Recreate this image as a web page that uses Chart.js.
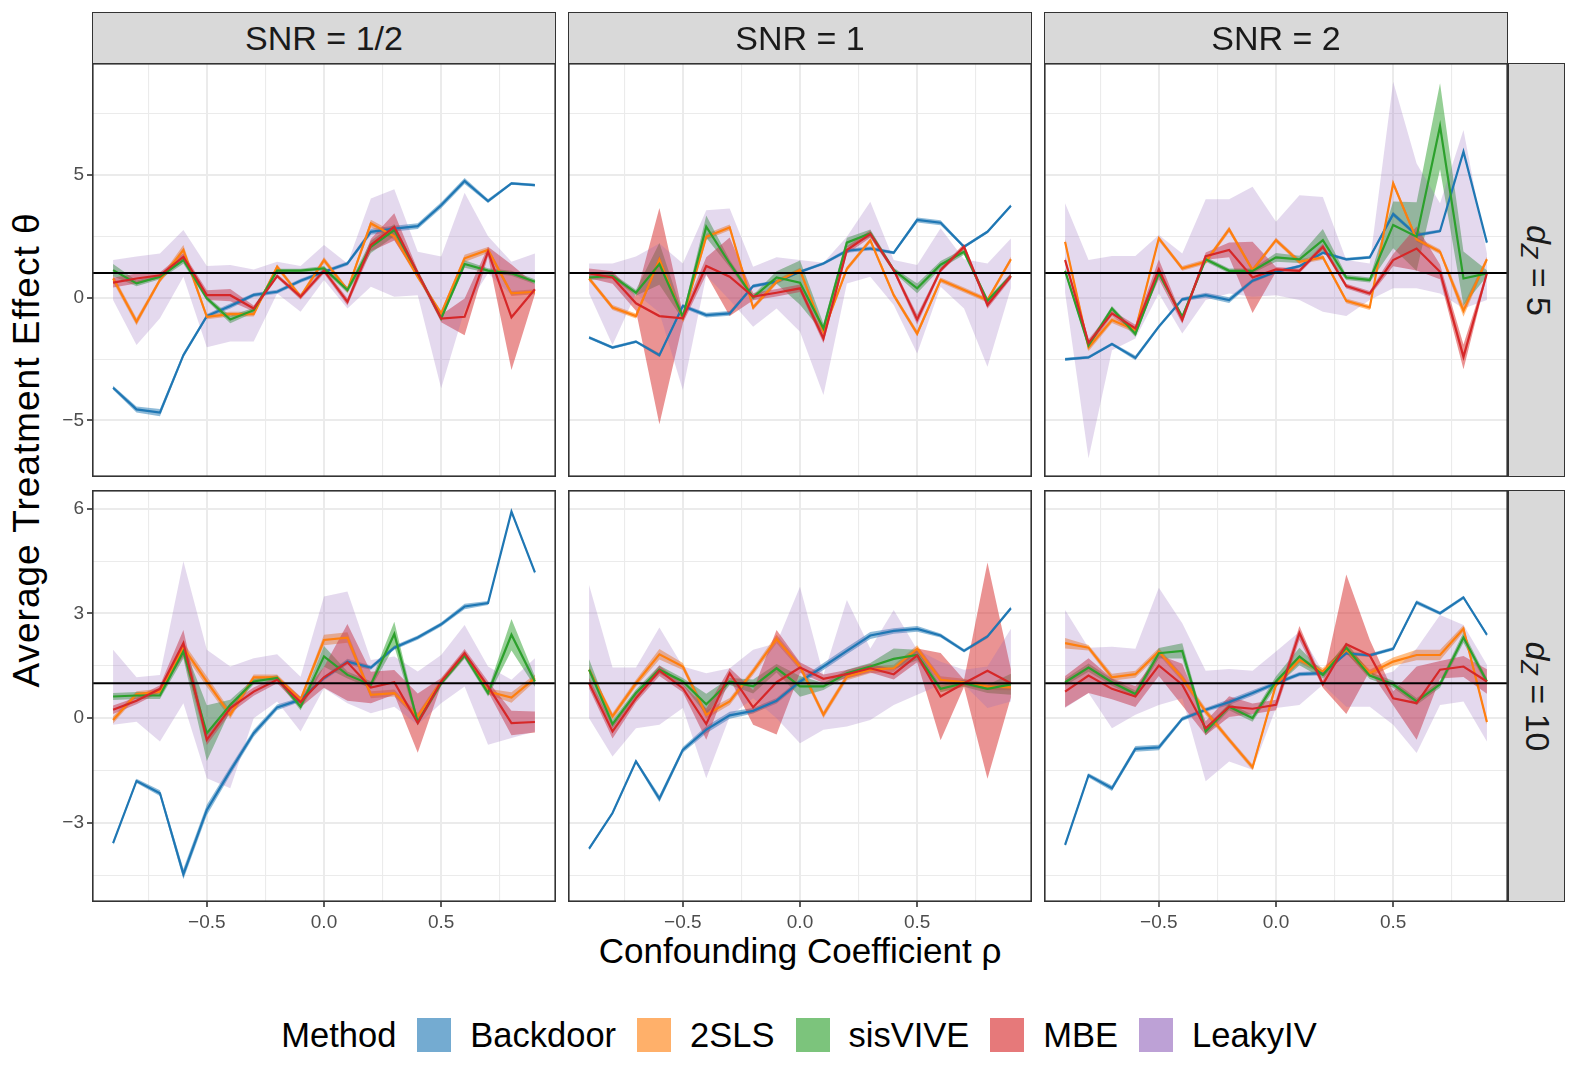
<!DOCTYPE html>
<html>
<head>
<meta charset="utf-8">
<script src="https://cdn.jsdelivr.net/npm/chart.js@4.4.1/dist/chart.umd.min.js"></script>
<style>
  body { margin: 0; background: #fff; width: 1578px; height: 1078px; position: relative; overflow: hidden;
         font-family: "Liberation Sans", Arial, sans-serif; }
  canvas { position: absolute; }
  .strip { position: absolute; background: #d9d9d9; border: 1.5px solid #333; box-sizing: border-box;
           display: flex; align-items: center; justify-content: center; color: #1a1a1a; font-size: 34px; }
  .vtext { transform: rotate(90deg); white-space: nowrap; }
  .vtext sub { font-size: 70%; vertical-align: -0.25em; }
  .title { position: absolute; font-size: 35px; color: #000; white-space: nowrap; }
  #legend { position: absolute; left: 10px; width: 1578px; top: 1017px; height: 36px; display: flex;
            align-items: center; justify-content: center; font-size: 34.5px; color: #000; }
  #legend .key { width: 34px; height: 34px; margin: 0 19px 0 21px; }
</style>
</head>
<body>
<div class="title" id="xtitle" style="left:800px;top:951px;transform:translate(-50%,-50%)">Confounding Coefficient ρ</div>
<div class="title" id="ytitle" style="left:27px;top:450px;font-size:37px;letter-spacing:1px;transform:translate(-50%,-50%) rotate(-90deg)">Average Treatment Effect θ</div>
<div id="legend"></div>
<script>
// x values (confounding coefficient)
const rho = [-0.9, -0.8, -0.7, -0.6, -0.5, -0.4, -0.3, -0.2, -0.1, 0, 0.1, 0.2, 0.3, 0.4, 0.5, 0.6, 0.7, 0.8, 0.9];
const methods = ["Backdoor", "2SLS", "sisVIVE", "MBE", "LeakyIV"];
const snrLabels = ["SNR = 1/2", "SNR = 1", "SNR = 2"];
const dzLabels = ["5", "10"];
const trueEffect = 1;

const xTicks = [-0.5, 0, 0.5];
const xTickLabels = ["−0.5", "0.0", "0.5"];
const xMinor = [-0.75, -0.25, 0.25, 0.75];
const yTicksTop = [-5, 0, 5];
const yTickLabelsTop = ["−5", "0", "5"];
const yMinorTop = [-2.5, 2.5, 7.5];
const yTicksBottom = [-3, 0, 3, 6];
const yTickLabelsBottom = ["−3", "0", "3", "6"];
const yMinorBottom = [-4.5, -1.5, 1.5, 4.5];

// SNR = 1/2, d_Z = 5
const s05d5_backdoor = [-3.67, -4.55, -4.68, -2.34, -0.75, -0.34, 0.11, 0.24, 0.69, 1.05, 1.39, 2.68, 2.81, 2.91, 3.76, 4.75, 3.93, 4.65, 4.58];
const s05d5_backdoorCI = [0.08, 0.12, 0.15, 0.1, 0.08, 0.1, 0.08, 0.08, 0.08, 0.08, 0.08, 0.12, 0.12, 0.12, 0.12, 0.12, 0.08, 0.06, 0.06];
const s05d5_tsls = [0.78, -0.98, 0.72, 1.94, -0.78, -0.67, -0.67, 1.26, 0.04, 1.53, 0.31, 3.02, 2.5, 0.85, -0.64, 1.6, 1.94, 0.17, 0.24];
const s05d5_tslsCI = [0.15, 0.15, 0.1, 0.2, 0.1, 0.1, 0.1, 0.1, 0.1, 0.12, 0.1, 0.15, 0.15, 0.1, 0.1, 0.15, 0.12, 0.1, 0.1];
const s05d5_sisvive = [1.12, 0.58, 0.85, 1.53, -0.03, -0.89, -0.51, 1.1, 1.1, 1.19, 0.31, 2.07, 2.75, 0.99, -0.85, 1.37, 1.1, 0.99, 0.65];
const s05d5_sisviveCI = [0.25, 0.12, 0.1, 0.15, 0.1, 0.15, 0.1, 0.08, 0.08, 0.1, 0.12, 0.25, 0.25, 0.1, 0.1, 0.15, 0.1, 0.1, 0.1];
const s05d5_mbe = [0.61, 0.78, 0.91, 1.66, 0.1, 0.1, -0.44, 0.88, 0.04, 1.1, -0.17, 2.14, 2.88, 0.99, -0.85, -0.78, 1.87, -0.8, 0.34];
const s05d5_mbeCI = [0.2, 0.2, 0.12, 0.15, 0.2, 0.25, 0.12, 0.08, 0.12, 0.12, 0.15, 0.25, 0.55, 0.15, 0.15, 0.75, 0.2, 2.15, 0.2];
const s05d5_leakyLo = [-0.1, -1.93, -0.84, 0.85, -2.02, -1.79, -1.79, 0.17, -0.57, 0.72, -0.44, 0.44, 0.04, 0.1, -3.69, -0.5, 0.99, 0.1, 0.17];
const s05d5_leakyHi = [1.53, 1.67, 1.8, 2.75, 1.29, 1.33, 1.15, 1.46, 1.29, 2.14, 1.39, 4.04, 4.41, 1.87, 1.67, 4.27, 2.5, 1.46, 1.8];

// SNR = 1, d_Z = 5
const s1d5_backdoor = [-1.62, -2.03, -1.79, -2.34, -0.34, -0.71, -0.64, 0.47, 0.65, 1.05, 1.39, 1.91, 2.0, 1.83, 3.16, 3.05, 2.07, 2.68, 3.74];
const s1d5_backdoorCI = [0.06, 0.06, 0.06, 0.08, 0.08, 0.1, 0.1, 0.08, 0.06, 0.06, 0.06, 0.08, 0.08, 0.06, 0.1, 0.1, 0.06, 0.06, 0.06];
const s1d5_tsls = [0.78, -0.4, -0.75, 1.56, -0.84, 2.48, 2.86, -0.4, 0.65, 1.12, -1.39, 1.17, 2.33, 0.1, -1.46, 0.72, 0.31, -0.1, 1.56];
const s1d5_tslsCI = [0.1, 0.1, 0.1, 0.15, 0.12, 0.12, 0.12, 0.1, 0.1, 0.1, 0.1, 0.1, 0.1, 0.1, 0.12, 0.1, 0.1, 0.1, 0.1];
const s1d5_sisvive = [0.82, 0.88, 0.2, 1.37, -0.78, 2.89, 1.39, 0.01, 0.82, 0.61, -1.25, 2.24, 2.62, 1.12, 0.38, 1.34, 1.87, -0.13, 0.88];
const s1d5_sisviveCI = [0.1, 0.1, 0.12, 0.85, 0.12, 0.45, 0.15, 0.1, 0.25, 0.9, 0.2, 0.2, 0.15, 0.1, 0.2, 0.15, 0.12, 0.12, 0.1];
const s1d5_mbe = [0.99, 0.82, -0.23, -0.75, -0.84, 1.29, 0.85, 0.04, 0.2, 0.38, -1.66, 1.94, 2.59, 1.12, -0.89, 1.12, 2.07, -0.3, 0.88];
const s1d5_mbeCI = [0.2, 0.25, 0.3, 4.4, 0.2, 0.35, 1.6, 0.15, 0.15, 0.15, 0.2, 0.15, 0.15, 0.1, 0.2, 0.1, 0.12, 0.15, 0.12];
const s1d5_leakyLo = [0.17, -1.93, 0.17, -0.6, -3.76, 0.9, -0.1, -1.18, -0.44, -1.39, -3.96, 0.58, 0.85, -0.3, -2.27, 0.44, -0.44, -2.81, 0.38];
const s1d5_leakyHi = [1.39, 1.39, 1.67, 2.2, 1.39, 3.56, 3.63, 1.26, 1.64, 1.53, 1.42, 2.48, 3.9, 1.53, 1.33, 2.82, 1.56, 1.39, 2.41];

// SNR = 2, d_Z = 5
const s2d5_backdoor = [-2.51, -2.43, -1.89, -2.45, -1.18, -0.07, 0.1, -0.1, 0.69, 1.05, 1.28, 1.83, 1.56, 1.64, 3.4, 2.55, 2.71, 5.94, 2.24];
const s2d5_backdoorCI = [0.06, 0.06, 0.06, 0.1, 0.08, 0.08, 0.1, 0.12, 0.08, 0.06, 0.06, 0.06, 0.06, 0.06, 0.1, 0.08, 0.06, 0.06, 0.06];
const s2d5_tsls = [2.27, -2.03, -0.91, -1.32, 2.41, 1.19, 1.46, 2.78, 1.12, 2.34, 1.46, 1.64, -0.13, -0.4, 4.65, 2.37, 1.87, -0.53, 1.56];
const s2d5_tslsCI = [0.12, 0.15, 0.12, 0.12, 0.1, 0.1, 0.1, 0.12, 0.1, 0.1, 0.1, 0.1, 0.1, 0.1, 0.12, 0.1, 0.1, 0.25, 0.1];
const s2d5_sisvive = [1.09, -1.94, -0.44, -1.48, 0.99, -0.78, 1.56, 1.09, 1.09, 1.64, 1.56, 2.34, 0.82, 0.72, 2.96, 2.48, 6.98, 0.78, 0.99];
const s2d5_sisviveCI = [0.1, 0.12, 0.1, 0.12, 0.1, 0.1, 0.1, 0.1, 0.1, 0.18, 0.15, 0.45, 0.1, 0.1, 0.95, 1.4, 1.75, 1.1, 0.12];
const s2d5_mbe = [1.53, -1.84, -0.64, -1.25, 1.15, -0.91, 1.69, 1.94, 0.82, 1.15, 1.09, 2.07, 0.47, 0.17, 1.53, 2.0, 1.05, -2.41, 0.99];
const s2d5_mbeCI = [0.12, 0.15, 0.12, 0.15, 0.4, 0.15, 0.15, 0.3, 1.45, 0.1, 0.1, 0.12, 0.1, 0.1, 0.25, 0.9, 0.3, 0.5, 0.1];
const s2d5_leakyLo = [0.2, -6.54, -2.14, -1.66, 0.17, -1.46, -0.1, 0.17, 0.04, 0.1, -0.1, -0.57, -0.75, -0.1, 0.38, 0.38, 0.17, -0.44, -0.1];
const s2d5_leakyHi = [3.84, 1.53, 1.69, 1.69, 2.55, 1.8, 4.0, 4.0, 4.51, 3.09, 4.17, 4.1, 1.53, 1.39, 8.79, 5.46, 3.84, 6.82, 1.8];

// SNR = 1/2, d_Z = 10
const s05d10_backdoor = [-3.58, -1.8, -2.15, -4.47, -2.63, -1.51, -0.43, 0.31, 0.53, 1.15, 1.62, 1.45, 2.02, 2.31, 2.69, 3.2, 3.3, 5.92, 4.18];
const s05d10_backdoorCI = [0.05, 0.06, 0.08, 0.15, 0.15, 0.12, 0.1, 0.08, 0.06, 0.06, 0.08, 0.06, 0.06, 0.06, 0.06, 0.08, 0.06, 0.05, 0.05];
const s05d10_tsls = [-0.05, 0.69, 0.76, 2.02, 1.05, 0.1, 1.17, 1.17, 0.53, 2.24, 2.31, 0.67, 0.72, 0.05, 1.05, 1.83, 0.76, 0.59, 1.15];
const s05d10_tslsCI = [0.1, 0.08, 0.08, 0.15, 0.15, 0.12, 0.08, 0.08, 0.08, 0.15, 0.15, 0.1, 0.1, 0.1, 0.08, 0.1, 0.08, 0.15, 0.1];
const s05d10_sisvive = [0.62, 0.65, 0.65, 1.91, -0.43, 0.38, 1.05, 1.15, 0.33, 1.77, 1.24, 0.96, 2.41, -0.11, 1.0, 1.8, 0.72, 2.39, 1.05];
const s05d10_sisviveCI = [0.1, 0.1, 0.1, 0.2, 0.8, 0.15, 0.08, 0.08, 0.1, 0.3, 0.1, 0.1, 0.35, 0.1, 0.08, 0.1, 0.1, 0.45, 0.15];
const s05d10_mbe = [0.24, 0.5, 0.84, 2.15, -0.62, 0.29, 0.76, 1.1, 0.46, 1.17, 1.6, 0.88, 1.03, -0.14, 1.05, 1.86, 0.91, -0.14, -0.11];
const s05d10_mbeCI = [0.12, 0.1, 0.1, 0.38, 0.15, 0.15, 0.12, 0.1, 0.15, 0.3, 1.1, 0.45, 0.35, 0.85, 0.1, 0.12, 0.15, 0.35, 0.3];
const s05d10_leakyLo = [-0.19, -0.1, -0.67, 0.43, -1.72, -2.01, 0.0, 0.48, -0.38, 0.86, 0.43, 0.14, 0.33, -0.19, 0.43, 0.91, -0.76, -0.57, -0.38];
const s05d10_leakyHi = [1.96, 1.17, 1.24, 4.5, 1.96, 1.48, 1.72, 1.83, 1.19, 3.49, 3.63, 1.67, 1.77, 1.34, 1.81, 2.67, 1.48, 1.1, 1.72];

// SNR = 1, d_Z = 10
const s1d10_backdoor = [-3.74, -2.72, -1.24, -2.31, -0.91, -0.33, 0.08, 0.21, 0.5, 1.05, 1.48, 1.93, 2.37, 2.5, 2.56, 2.37, 1.93, 2.34, 3.15];
const s1d10_backdoorCI = [0.05, 0.05, 0.05, 0.1, 0.08, 0.1, 0.1, 0.08, 0.08, 0.08, 0.1, 0.1, 0.1, 0.08, 0.08, 0.06, 0.05, 0.05, 0.05];
const s1d10_tsls = [1.39, 0.05, 1.0, 1.83, 1.48, 0.1, 0.48, 1.34, 2.27, 1.48, 0.1, 1.19, 1.39, 1.43, 1.99, 1.1, 1.03, 0.91, 0.88];
const s1d10_tslsCI = [0.1, 0.1, 0.1, 0.15, 0.1, 0.12, 0.1, 0.1, 0.12, 0.1, 0.1, 0.1, 0.1, 0.1, 0.1, 0.1, 0.1, 0.1, 0.08];
const s1d10_sisvive = [1.39, -0.17, 0.72, 1.39, 1.05, 0.4, 1.05, 0.91, 1.43, 0.91, 0.91, 1.29, 1.48, 1.7, 1.81, 0.84, 1.0, 0.84, 0.97];
const s1d10_sisviveCI = [0.3, 0.12, 0.1, 0.12, 0.1, 0.3, 0.1, 0.2, 0.12, 0.3, 0.1, 0.1, 0.1, 0.3, 0.15, 0.1, 0.1, 0.12, 0.3];
const s1d10_mbe = [1.0, -0.38, 0.57, 1.36, 0.86, -0.17, 1.29, 0.31, 1.03, 1.45, 1.13, 1.26, 1.43, 1.26, 1.8, 0.62, 1.0, 1.36, 1.0];
const s1d10_mbeCI = [0.15, 0.2, 0.12, 0.15, 0.12, 0.45, 0.15, 0.5, 1.5, 0.15, 0.12, 0.12, 0.12, 0.15, 0.2, 1.25, 0.1, 3.1, 0.4];
const s1d10_leakyLo = [0.0, -1.1, -0.29, -0.19, 0.29, -1.72, 0.05, 0.57, 0.0, -0.72, -0.33, -0.24, -0.05, 0.38, 0.67, 0.96, 0.96, 0.29, 0.48];
const s1d10_leakyHi = [3.82, 1.45, 1.45, 2.6, 1.48, 1.29, 1.43, 1.96, 2.15, 3.77, 1.24, 3.39, 2.0, 3.1, 1.96, 1.62, 1.39, 1.48, 2.56];

// SNR = 2, d_Z = 10
const s2d10_backdoor = [-3.63, -1.64, -2.01, -0.88, -0.84, -0.02, 0.24, 0.46, 0.72, 1.0, 1.26, 1.29, 1.86, 1.8, 1.99, 3.32, 3.01, 3.46, 2.39];
const s2d10_backdoorCI = [0.05, 0.06, 0.08, 0.08, 0.08, 0.06, 0.06, 0.08, 0.08, 0.06, 0.06, 0.06, 0.05, 0.05, 0.05, 0.06, 0.05, 0.05, 0.05];
const s2d10_tsls = [2.15, 2.02, 1.17, 1.26, 1.91, 1.15, 0.19, -0.62, -1.41, 0.96, 1.67, 1.34, 1.96, 1.29, 1.62, 1.81, 1.81, 2.56, -0.11];
const s2d10_tslsCI = [0.15, 0.08, 0.1, 0.1, 0.1, 0.1, 0.1, 0.08, 0.08, 0.08, 0.08, 0.1, 0.1, 0.1, 0.12, 0.15, 0.15, 0.1, 0.08];
const s2d10_sisvive = [1.03, 1.45, 1.03, 0.69, 1.86, 1.93, -0.38, 0.33, 0.0, 1.05, 1.77, 1.24, 2.02, 1.22, 0.97, 0.48, 0.97, 2.31, 1.05];
const s2d10_sisviveCI = [0.1, 0.12, 0.1, 0.1, 0.15, 0.22, 0.12, 0.1, 0.1, 0.15, 0.25, 0.1, 0.15, 0.1, 0.1, 0.1, 0.1, 0.15, 0.1];
const s2d10_mbe = [0.76, 1.22, 0.84, 0.62, 1.51, 0.96, -0.29, 0.33, 0.27, 0.38, 2.44, 0.97, 2.12, 1.8, 0.57, 0.43, 1.39, 1.48, 1.05];
const s2d10_mbeCI = [0.45, 0.5, 0.3, 0.3, 0.3, 0.6, 0.2, 0.3, 0.15, 0.15, 0.2, 0.1, 2.0, 0.45, 0.2, 1.05, 0.25, 0.3, 0.35];
const s2d10_leakyLo = [0.29, 0.72, -0.29, 0.1, 0.38, 0.57, -1.81, -1.24, -1.48, 0.29, 0.38, 0.96, 0.33, 0.33, -0.19, -1.0, 0.38, 0.48, -0.67];
const s2d10_leakyHi = [3.1, 2.02, 2.05, 1.99, 3.74, 2.72, 1.36, 1.41, 1.36, 1.91, 2.48, 1.34, 1.91, 1.15, 1.34, 2.0, 2.96, 2.67, 1.53];

// colours (ggplot / tableau palette)
const methodRGB = ["31,119,180", "255,127,14", "44,160,44", "214,39,40", "148,103,189"];
const ribbonAlpha = [0.5, 0.5, 0.5, 0.5, 0.25];
const FONT = "'Liberation Sans', Arial, sans-serif";

// layout of the facet grid
const colLeft = [92, 568, 1044];
const colW = 464;
const rowTop = [63, 490];
const rowH = [414, 412];
const yAxisW = 60;
const xAxisH = 50;

const panels = [
  { r: 0, c: 0, est: [s05d5_backdoor, s05d5_tsls, s05d5_sisvive, s05d5_mbe], ci: [s05d5_backdoorCI, s05d5_tslsCI, s05d5_sisviveCI, s05d5_mbeCI], lo: s05d5_leakyLo, hi: s05d5_leakyHi },
  { r: 0, c: 1, est: [s1d5_backdoor, s1d5_tsls, s1d5_sisvive, s1d5_mbe], ci: [s1d5_backdoorCI, s1d5_tslsCI, s1d5_sisviveCI, s1d5_mbeCI], lo: s1d5_leakyLo, hi: s1d5_leakyHi },
  { r: 0, c: 2, est: [s2d5_backdoor, s2d5_tsls, s2d5_sisvive, s2d5_mbe], ci: [s2d5_backdoorCI, s2d5_tslsCI, s2d5_sisviveCI, s2d5_mbeCI], lo: s2d5_leakyLo, hi: s2d5_leakyHi },
  { r: 1, c: 0, est: [s05d10_backdoor, s05d10_tsls, s05d10_sisvive, s05d10_mbe], ci: [s05d10_backdoorCI, s05d10_tslsCI, s05d10_sisviveCI, s05d10_mbeCI], lo: s05d10_leakyLo, hi: s05d10_leakyHi },
  { r: 1, c: 1, est: [s1d10_backdoor, s1d10_tsls, s1d10_sisvive, s1d10_mbe], ci: [s1d10_backdoorCI, s1d10_tslsCI, s1d10_sisviveCI, s1d10_mbeCI], lo: s1d10_leakyLo, hi: s1d10_leakyHi },
  { r: 1, c: 2, est: [s2d10_backdoor, s2d10_tsls, s2d10_sisvive, s2d10_mbe], ci: [s2d10_backdoorCI, s2d10_tslsCI, s2d10_sisviveCI, s2d10_mbeCI], lo: s2d10_leakyLo, hi: s2d10_leakyHi },
];

const rowRange = [
  { min: -7.3, max: 9.55, major: yTicksTop, labels: yTickLabelsTop, minor: yMinorTop },
  { min: -5.27, max: 6.54, major: yTicksBottom, labels: yTickLabelsBottom, minor: yMinorBottom },
];

const pts = (ys) => rho.map((x, i) => ({ x: x, y: ys[i] }));

function buildDatasets(p) {
  const ds = [];
  // ribbons, Backdoor first so LeakyIV sits on top of the other ribbons
  for (let m = 0; m < 5; m++) {
    const lo = m === 4 ? p.lo : p.est[m].map((v, i) => v - p.ci[m][i]);
    const hi = m === 4 ? p.hi : p.est[m].map((v, i) => v + p.ci[m][i]);
    ds.push({ data: pts(lo), borderColor: "transparent", borderWidth: 0, pointRadius: 0, fill: false, order: 100 - m * 10 });
    ds.push({ data: pts(hi), borderColor: "transparent", borderWidth: 0, pointRadius: 0,
              backgroundColor: "rgba(" + methodRGB[m] + "," + ribbonAlpha[m] + ")", fill: "-1", order: 99 - m * 10 });
  }
  // estimate lines (LeakyIV has only its band)
  for (let m = 0; m < 4; m++) {
    ds.push({ data: pts(p.est[m]), borderColor: "rgb(" + methodRGB[m] + ")", borderWidth: 2.2,
              pointRadius: 0, fill: false, tension: 0, order: 4 - m });
  }
  return ds;
}

const panelFrame = {
  id: "panelFrame",
  afterDatasetsDraw(chart) {
    const { ctx, chartArea: a, scales } = chart;
    const y = scales.y.getPixelForValue(trueEffect);
    ctx.save();
    ctx.strokeStyle = "#000";
    ctx.lineWidth = 2;
    ctx.beginPath();
    ctx.moveTo(a.left, y);
    ctx.lineTo(a.right, y);
    ctx.stroke();
    ctx.strokeStyle = "#333";
    ctx.lineWidth = 1.6;
    ctx.strokeRect(a.left + 0.8, a.top + 0.8, a.width - 1.6, a.height - 1.6);
    ctx.restore();
  },
};

function isIn(list, v) {
  return list.some((t) => Math.abs(t - v) < 1e-9);
}

function noPad(s) {
  s.paddingTop = 0;
  s.paddingBottom = 0;
  s.paddingLeft = 0;
  s.paddingRight = 0;
}

panels.forEach((p) => {
  const left = colLeft[p.c] - (p.c === 0 ? yAxisW : 0);
  const w = colW + (p.c === 0 ? yAxisW : 0);
  const h = rowH[p.r] + (p.r === 1 ? xAxisH : 0);
  const cv = document.createElement("canvas");
  cv.width = w;
  cv.height = h;
  cv.style.left = left + "px";
  cv.style.top = rowTop[p.r] + "px";
  cv.style.width = w + "px";
  cv.style.height = h + "px";
  document.body.appendChild(cv);

  const yr = rowRange[p.r];
  const showX = p.r === 1;
  const showY = p.c === 0;

  new Chart(cv.getContext("2d"), {
    type: "line",
    data: { datasets: buildDatasets(p) },
    options: {
      responsive: false,
      animation: false,
      events: [],
      layout: { padding: 0 },
      plugins: { legend: { display: false }, tooltip: { enabled: false } },
      scales: {
        x: {
          type: "linear",
          min: -0.99,
          max: 0.99,
          afterBuildTicks: (s) => {
            s.ticks = xMinor.concat(xTicks).sort((a, b) => a - b).map((v) => ({ value: v }));
          },
          afterFit: (s) => { s.height = showX ? xAxisH : 0; noPad(s); },
          border: { display: false },
          grid: {
            color: "#ebebeb",
            lineWidth: (c) => (isIn(xTicks, c.tick.value) ? 2 : 1.1),
            drawTicks: showX,
            tickLength: 5,
            tickWidth: 1.6,
            tickColor: (c) => (isIn(xTicks, c.tick.value) ? "#333" : "rgba(0,0,0,0)"),
          },
          ticks: {
            display: showX,
            autoSkip: false,
            maxRotation: 0,
            padding: 4,
            color: "#4d4d4d",
            font: { size: 19, family: FONT },
            callback: (v) => {
              const k = xTicks.findIndex((t) => Math.abs(t - v) < 1e-9);
              return k >= 0 ? xTickLabels[k] : "";
            },
          },
        },
        y: {
          type: "linear",
          min: yr.min,
          max: yr.max,
          afterBuildTicks: (s) => {
            s.ticks = yr.minor.concat(yr.major).sort((a, b) => a - b).map((v) => ({ value: v }));
          },
          afterFit: (s) => { s.width = showY ? yAxisW : 0; noPad(s); },
          border: { display: false },
          grid: {
            color: "#ebebeb",
            lineWidth: (c) => (isIn(yr.major, c.tick.value) ? 2 : 1.1),
            drawTicks: showY,
            tickLength: 5,
            tickWidth: 1.6,
            tickColor: (c) => (isIn(yr.major, c.tick.value) ? "#333" : "rgba(0,0,0,0)"),
          },
          ticks: {
            display: showY,
            autoSkip: false,
            padding: 3,
            color: "#4d4d4d",
            font: { size: 19, family: FONT },
            callback: (v) => {
              const k = yr.major.findIndex((t) => Math.abs(t - v) < 1e-9);
              return k >= 0 ? yr.labels[k] : "";
            },
          },
        },
      },
    },
    plugins: [panelFrame],
  });
});

// facet strips
snrLabels.forEach((lab, c) => {
  const d = document.createElement("div");
  d.className = "strip";
  d.style.left = colLeft[c] + "px";
  d.style.top = "12px";
  d.style.width = colW + "px";
  d.style.height = "52px";
  d.textContent = lab;
  document.body.appendChild(d);
});
dzLabels.forEach((lab, r) => {
  const d = document.createElement("div");
  d.className = "strip";
  d.style.left = colLeft[2] + colW + "px";
  d.style.top = rowTop[r] + "px";
  d.style.width = "57px";
  d.style.height = rowH[r] + "px";
  d.innerHTML = '<span class="vtext"><i>d</i><sub><i>Z</i></sub> = ' + lab + "</span>";
  document.body.appendChild(d);
});

// legend
const legend = document.getElementById("legend");
legend.innerHTML = "<span>Method</span>" + methods.map((m, i) =>
  '<span class="key" style="background:rgba(' + methodRGB[i] + ',0.62)"></span><span>' + m + "</span>").join("");
</script>
</body>
</html>
